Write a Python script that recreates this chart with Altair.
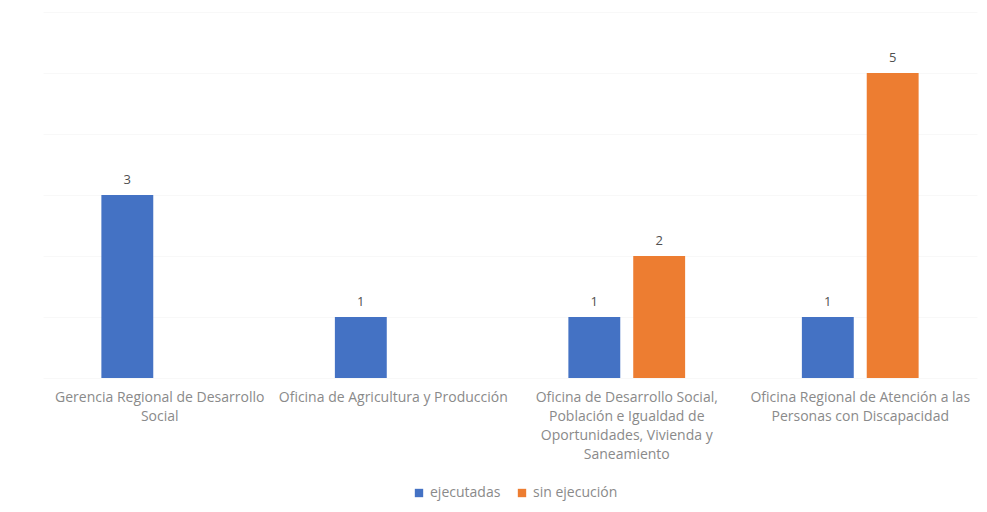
import altair as alt
import pandas as pd

categories = [
    "Gerencia Regional de Desarrollo\nSocial",
    "Oficina de Agricultura y Producción",
    "Oficina de Desarrollo Social,\nPoblación e Igualdad de\nOportunidades, Vivienda y\nSaneamiento",
    "Oficina Regional de Atención a las\nPersonas con Discapacidad",
]
series = ["ejecutadas", "sin ejecución"]
ejecutadas = [3, 1, 1, 1]
sin_ejecucion = [0, 0, 2, 5]
colors = ["#4472C4", "#ED7D31"]

rows = []
for c, a, b in zip(categories, ejecutadas, sin_ejecucion):
    rows.append({"cat": c, "serie": series[0], "val": a})
    rows.append({"cat": c, "serie": series[1], "val": b})
df = pd.DataFrame(rows)

FONT = "Open Sans"

x = alt.X("cat:N", sort=categories, title=None,
          scale=alt.Scale(paddingInner=0.5, paddingOuter=0.25),
          axis=alt.Axis(labelExpr="split(datum.label, '\\n')", labelAngle=0,
                        labelColor="#8a8a8a", labelFont=FONT, labelFontSize=14,
                        labelLineHeight=19, labelPadding=12, ticks=False,
                        domain=False, labelLimit=300))
xo = alt.XOffset("serie:N", sort=series,
                 scale=alt.Scale(paddingInner=0.2, paddingOuter=0))
y = alt.Y("val:Q", title=None,
          scale=alt.Scale(domain=[0, 6], nice=False),
          axis=alt.Axis(labels=False, ticks=False, domain=False, tickCount=6,
                        gridColor="#f8f8f8", gridWidth=1))
color = alt.Color("serie:N", sort=series,
                  scale=alt.Scale(domain=series, range=colors),
                  legend=alt.Legend(title=None, orient="none", direction="horizontal",
                                    legendX=369, legendY=474, symbolType="square",
                                    symbolSize=70, labelFont=FONT, labelFontSize=14,
                                    labelColor="#8a8a8a", columnPadding=14,
                                    symbolStrokeWidth=0))

bars = alt.Chart(df).mark_bar().encode(x=x, xOffset=xo, y=y, color=color)
text = alt.Chart(df).transform_filter("datum.val > 0").mark_text(
    baseline="bottom", dy=-8, font=FONT, fontSize=13, color="#505050"
).encode(x=x, xOffset=xo, y=y, text="val:Q")

chart = (bars + text).properties(
    width=934, height=366, background="white",
    padding={"left": 35, "top": 4, "right": 2, "bottom": 5},
).configure_view(stroke=None)

chart.save("out.html", embed_options={"renderer": "svg", "actions": False})
